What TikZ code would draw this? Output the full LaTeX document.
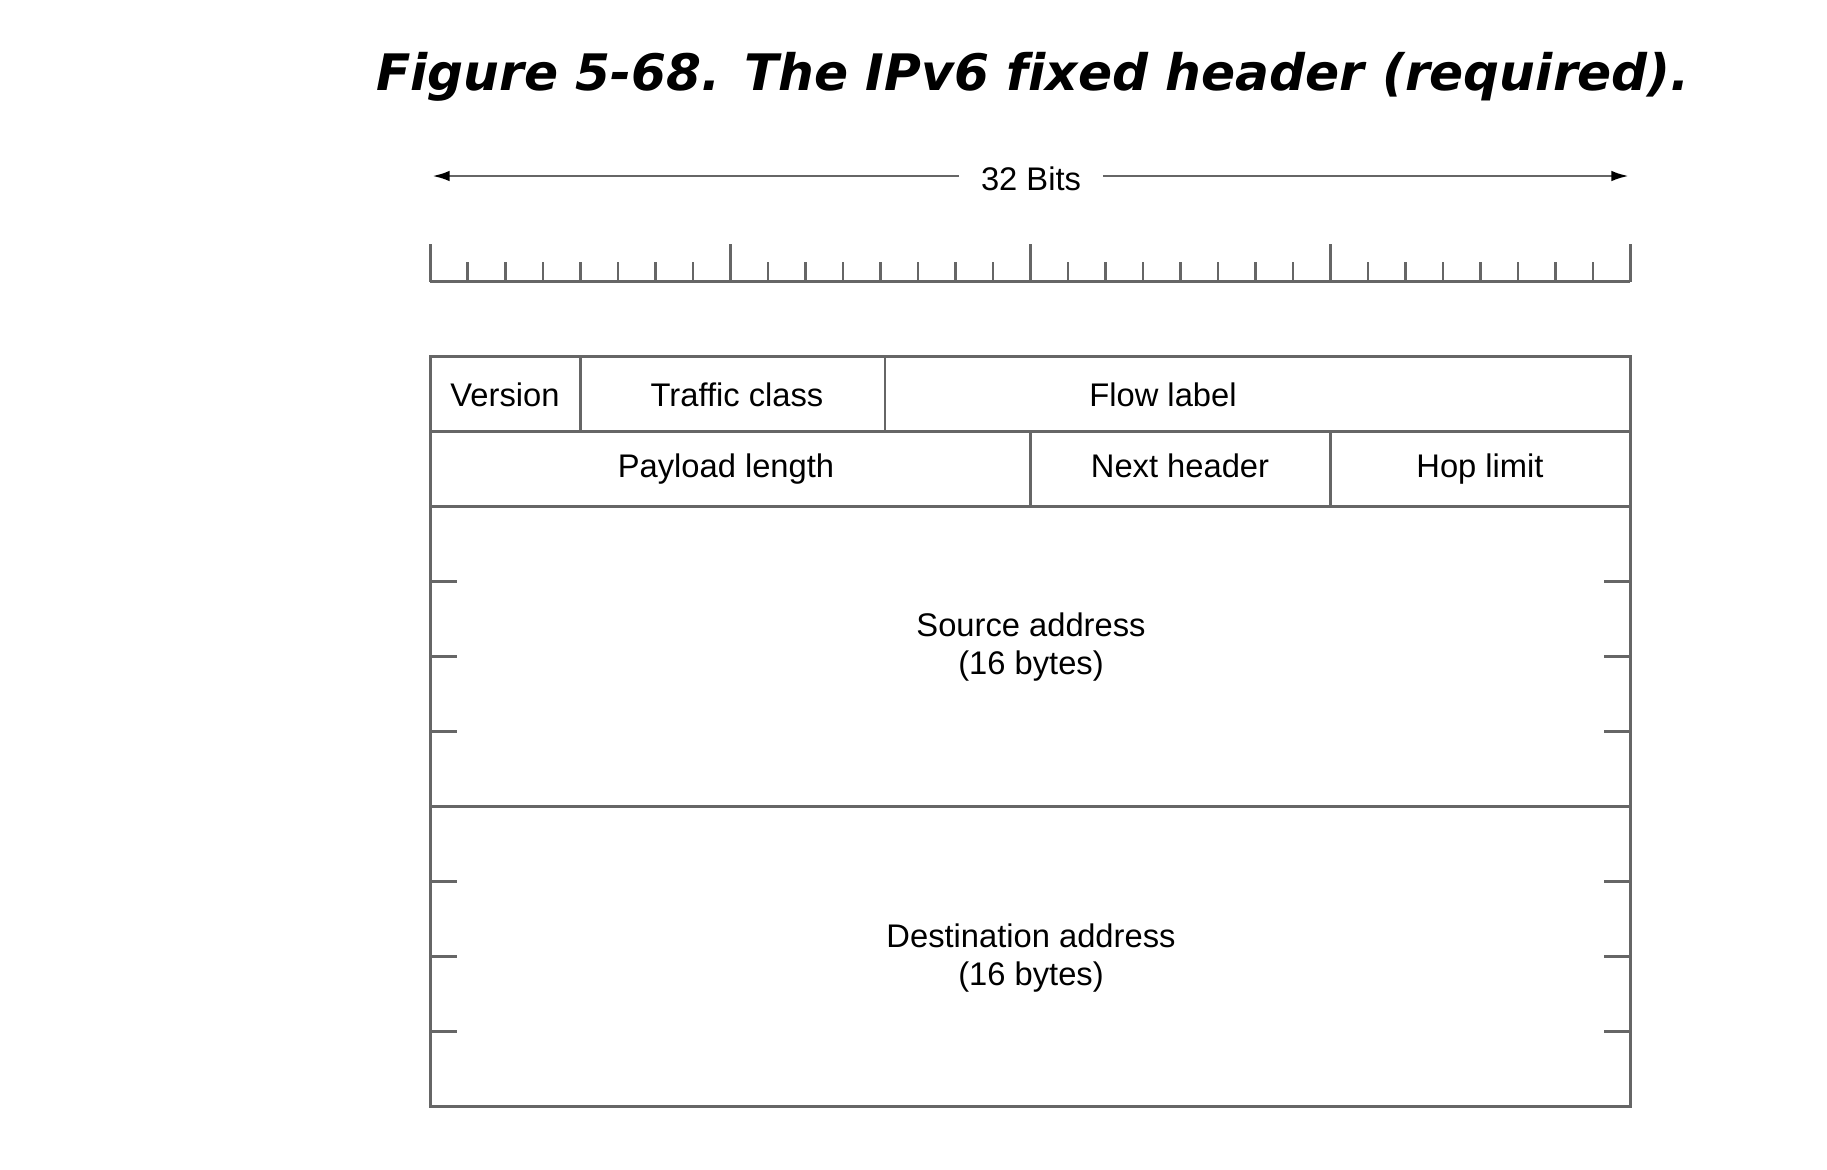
\documentclass[tikz,border=0pt]{standalone}
\usepackage{fontspec}
\setmainfont{Liberation Sans}
\newfontfamily\titlefont[Ligatures=NoCommon]{DejaVu Sans}
\usetikzlibrary{arrows.meta,calc}
\definecolor{linegray}{HTML}{666666}
\tikzset{field/.style={font=\fontsize{9.3}{10.6}\selectfont, inner sep=0pt, align=center},
         cell/.style={field, text height=0.72em, text depth=0.2em},
         frame/.style={draw=linegray, line width=0.8pt}}

\begin{document}
\begin{tikzpicture}[x=0.01cm, y=-0.01cm]
          \useasboundingbox (0,0) rectangle (1827,1169);

          \node[font=\titlefont\bfseries\itshape\fontsize{14.3}{17}\selectfont] (title) at (1033,77) {Figure 5-68. The IPv6 fixed header (required).};

          % 32 bits arrow
          \node[cell, inner xsep=6pt] (bits) at (1031,181) {32 Bits};
          \coordinate (bitsL) at (432,176);
          \coordinate (bitsR) at (1629,176);
          \draw[frame, -{Latex[black, length=5pt, width=3pt]}] (bits.west |- bitsL) to (bitsL);
          \draw[frame, -{Latex[black, length=5pt, width=3pt]}] (bits.east |- bitsR) to (bitsR);

          % ruler
          \draw[frame] (430.4,281.7) -- (1630.4,281.7);
          \foreach \i in {1,...,31}
            \draw[frame] (430.4+\i*37.5,281.7) -- (430.4+\i*37.5,261.7);
          \foreach \i in {0,8,...,32}
            \draw[frame] (430.4+\i*37.5,281.7) -- (430.4+\i*37.5,244);

          % header frame
          \draw[frame] (430.4,356.7) rectangle (1630.4,1106.7);
          \draw[frame] (430.4,431.7) -- (1630.4,431.7);
          \draw[frame] (430.4,506.7) -- (1630.4,506.7);
          \draw[frame] (430.4,806.7) -- (1630.4,806.7);
          \draw[frame] (580.4,356.7) -- (580.4,431.7);
          \draw[frame] (885,356.7) -- (885,431.7);
          \draw[frame] (1030.4,431.7) -- (1030.4,506.7);
          \draw[frame] (1330.4,431.7) -- (1330.4,506.7);
          \foreach \y in {581.7,656.7,731.7,881.7,956.7,1031.7} {
            \draw[frame] (430.4,\y) -- (456.7,\y);
            \draw[frame] (1604.4,\y) -- (1630.4,\y);
          }

          \node[cell] (version) at (505,397) {Version};
          \node[cell] (traffic) at (737,397) {Traffic class};
          \node[cell] (flow) at (1163,397) {Flow label};
          \node[cell] (payload) at (726,468) {Payload length};
          \node[cell] (nexthdr) at (1180,468) {Next header};
          \node[cell] (hoplimit) at (1480,468) {Hop limit};
          \node[field] (source) at (1031,647) {Source address\\(16 bytes)};
          \node[field] (dest) at (1031,958) {Destination address\\(16 bytes)};
        \end{tikzpicture}
\end{document}
